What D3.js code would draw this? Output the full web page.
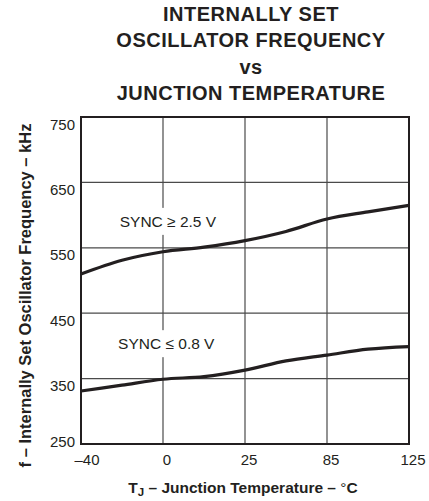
<!DOCTYPE html>
<html>
<head>
<meta charset="utf-8">
<script src="https://cdn.jsdelivr.net/npm/d3@7"></script>
<style>
  html, body { margin: 0; padding: 0; background: #fff; }
  svg { display: block; }
  text { font-family: "Liberation Sans", Arial, Helvetica, sans-serif; fill: #231f20; }
</style>
</head>
<body>
<svg id="chart" width="429" height="501"></svg>
<script>
// ---- data ----
const titleLines = ["INTERNALLY SET", "OSCILLATOR FREQUENCY", "vs", "JUNCTION TEMPERATURE"];
const xTicks = [-40, 0, 25, 85, 125];
const xTickLabels = ["\u201340", "0", "25", "85", "125"];
const yTicks = [250, 350, 450, 550, 650, 750];
const temps = [-40, -20, 0, 12.5, 25, 55, 85, 105, 125];
const freqHigh = [510, 531, 544, 551, 561, 575, 594, 605, 615];
const freqLow  = [331, 340, 349, 353, 363, 377, 386, 395, 399];
const labelHigh = { text: "SYNC \u2265 2.5 V", t: 1.5, f: 582 };
const labelLow  = { text: "SYNC \u2264 0.8 V", t: 1.0, f: 395 };

// ---- layout ----
const pL = 81, pR = 409, pT = 117, pB = 444;
const svg = d3.select("#chart");

// evenly spaced (piecewise-linear) temperature axis
const x = d3.scaleLinear()
  .domain(xTicks)
  .range(xTicks.map((d, i) => pL + i * (pR - pL) / (xTicks.length - 1)));
const y = d3.scaleLinear().domain([250, 750]).range([pB, pT]);

// title
svg.append("g").selectAll("text").data(titleLines).join("text")
  .attr("x", 251).attr("y", (d, i) => 21 + i * 26.3)
  .attr("text-anchor", "middle")
  .attr("font-size", 20).attr("font-weight", "bold")
  .attr("letter-spacing", 0.5)
  .text(d => d);

// grid
const grid = svg.append("g").attr("stroke", "#4a4a4a").attr("stroke-width", 1.2);
grid.selectAll("line.h").data(yTicks.slice(1, -1)).join("line")
  .attr("class", "h")
  .attr("x1", pL).attr("x2", pR)
  .attr("y1", d => y(d)).attr("y2", d => y(d));
grid.selectAll("line.v").data(xTicks.slice(1, -1)).join("line")
  .attr("class", "v")
  .attr("y1", pT).attr("y2", pB)
  .attr("x1", d => x(d)).attr("x2", d => x(d));

// labels with white background
function addLabel(l) {
  const g = svg.append("g");
  const rect = g.append("rect").attr("fill", "#fff");
  const t = g.append("text")
    .attr("x", x(l.t)).attr("y", y(l.f))
    .attr("text-anchor", "middle")
    .attr("font-size", 15.5)
    .text(l.text);
  const b = t.node().getBBox();
  rect.attr("x", b.x - 4).attr("y", b.y - 5).attr("width", b.width + 8).attr("height", b.height + 10);
}
addLabel(labelHigh);
addLabel(labelLow);

// curves
const line = d3.line().x((d, i) => x(temps[i])).y(d => y(d)).curve(d3.curveMonotoneX);
[freqHigh, freqLow].forEach(s => {
  svg.append("path").datum(s)
    .attr("d", line)
    .attr("fill", "none")
    .attr("stroke", "#231f20")
    .attr("stroke-width", 3.2)
    .attr("stroke-linejoin", "round");
});

// frame
svg.append("rect")
  .attr("x", pL).attr("y", pT)
  .attr("width", pR - pL).attr("height", pB - pT)
  .attr("fill", "none").attr("stroke", "#231f20").attr("stroke-width", 2);

// y tick labels
svg.append("g").selectAll("text").data(yTicks).join("text")
  .attr("x", 75)
  .attr("y", d => y(d) + (d === yTicks[0] ? 3 : 12.5))
  .attr("text-anchor", "end")
  .attr("font-size", 15)
  .text(d => d);

// x tick labels
svg.append("g").selectAll("text").data(xTicks).join("text")
  .attr("x", (d, i) => x(d) + (i === 0 ? 6 : 4))
  .attr("y", 465)
  .attr("text-anchor", "middle")
  .attr("font-size", 15)
  .text((d, i) => xTickLabels[i]);

// x axis title
const xt = svg.append("text")
  .attr("x", 243).attr("y", 493)
  .attr("text-anchor", "middle")
  .attr("font-size", 15.5).attr("font-weight", "bold");
xt.append("tspan").text("T");
xt.append("tspan").attr("font-size", 11.5).attr("dy", 3).text("J");
xt.append("tspan").attr("dy", -3).text(" \u2013 Junction Temperature \u2013 ");
xt.append("tspan").attr("font-weight", "normal").text("\u00b0");
xt.append("tspan").text("C");

// y axis title
svg.append("text")
  .attr("transform", "translate(30.5,295.5) rotate(-90)")
  .attr("text-anchor", "middle")
  .attr("font-size", 16.5).attr("font-weight", "bold")
  .text("f \u2013 Internally Set Oscillator Frequency \u2013 kHz");
</script>
</body>
</html>
